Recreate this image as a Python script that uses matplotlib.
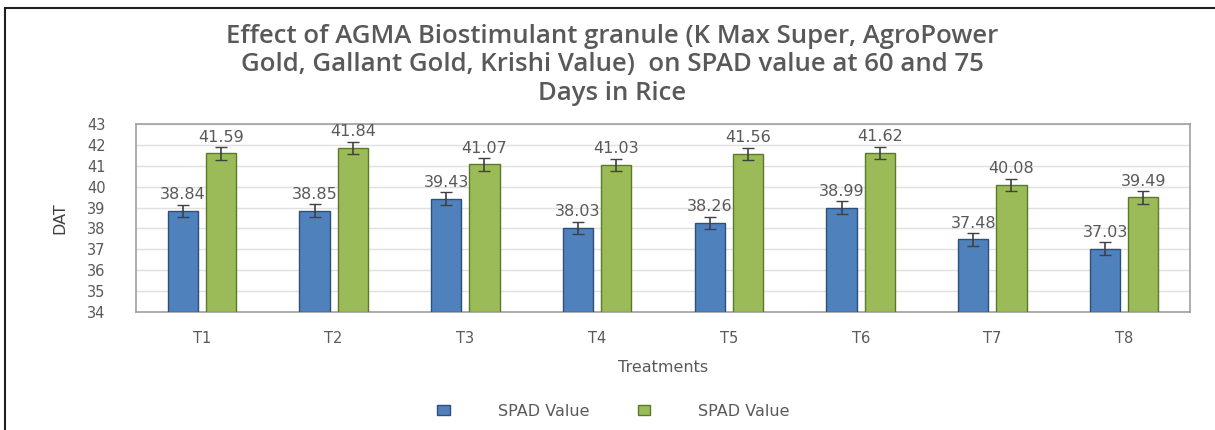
import numpy as np
import matplotlib.pyplot as plt
from matplotlib.patches import Rectangle

# data
treatments = ['T1', 'T2', 'T3', 'T4', 'T5', 'T6', 'T7', 'T8']
spad_60 = [38.84, 38.85, 39.43, 38.03, 38.26, 38.99, 37.48, 37.03]
spad_75 = [41.59, 41.84, 41.07, 41.03, 41.56, 41.62, 40.08, 39.49]
err_60 = [0.3] * 8
err_75 = [0.3] * 8

blue = '#4F81BD'
green = '#9BBB59'
grey_txt = '#595959'

fig = plt.figure(figsize=(12.15, 4.3), dpi=100)
ax = fig.add_axes([136 / 1215, 1 - 312 / 430, (1190 - 136) / 1215, (312 - 124) / 430])

x = np.arange(len(treatments))
w = 0.23
off = 0.145
ax.bar(x - off, np.array(spad_60) - 34, w, bottom=34, color=blue, edgecolor='#2F4F78',
       linewidth=1, yerr=err_60, capsize=4, error_kw=dict(ecolor='#404040', elinewidth=1.2),
       label='SPAD Value', zorder=3)
ax.bar(x + off, np.array(spad_75) - 34, w, bottom=34, color=green, edgecolor='#5A7A2A',
       linewidth=1, yerr=err_75, capsize=4, error_kw=dict(ecolor='#404040', elinewidth=1.2),
       label='SPAD Value', zorder=3)

for i in range(len(x)):
    ax.text(x[i] - off, spad_60[i] + 0.42, f'{spad_60[i]:.2f}', ha='center', va='bottom',
            fontsize=11.5, color=grey_txt, fontweight='medium')
    ax.text(x[i] + off, spad_75[i] + 0.42, f'{spad_75[i]:.2f}', ha='center', va='bottom',
            fontsize=11.5, color=grey_txt, fontweight='medium')

ax.set_xlim(-0.5, len(x) - 0.5)
ax.set_ylim(34, 43)
ax.set_yticks(range(34, 44))
ax.set_xticks(x)
ax.set_xticklabels(treatments)
ax.tick_params(axis='both', length=0, labelsize=10.5, colors=grey_txt)
ax.tick_params(axis='x', pad=14)
ax.tick_params(axis='y', pad=22)
ax.grid(axis='y', color='#E0E0E0', linewidth=1, zorder=0)
for s in ax.spines.values():
    s.set_color('#A0A0A0')
    s.set_linewidth(1.2)

ax.set_xlabel('Treatments', fontsize=11.5, color=grey_txt, labelpad=10)
ax.set_ylabel('DAT', fontsize=11.5, color='#404040', labelpad=14)

fig.text(0.504, 0.945, 'Effect of AGMA Biostimulant granule (K Max Super, AgroPower\n'
         'Gold, Gallant Gold, Krishi Value)  on SPAD value at 60 and 75\nDays in Rice',
         ha='center', va='top', fontsize=18.5, color=grey_txt, fontfamily='Open Sans',
         fontweight='semibold', linespacing=1.2)

fig.legend(loc='center', bbox_to_anchor=(0.505, 1 - 411 / 430), ncol=2, frameon=False,
           fontsize=11.5, handlelength=0.8, handleheight=0.6, handletextpad=3, columnspacing=3,
           labelcolor=grey_txt)

fig.patches.append(Rectangle((5 / 1215, -0.05), 1.1, 1 - 8 / 430 + 0.05, transform=fig.transFigure,
                             fill=False, edgecolor='#202020', linewidth=1.5))

fig.savefig('out.png', dpi=100)
